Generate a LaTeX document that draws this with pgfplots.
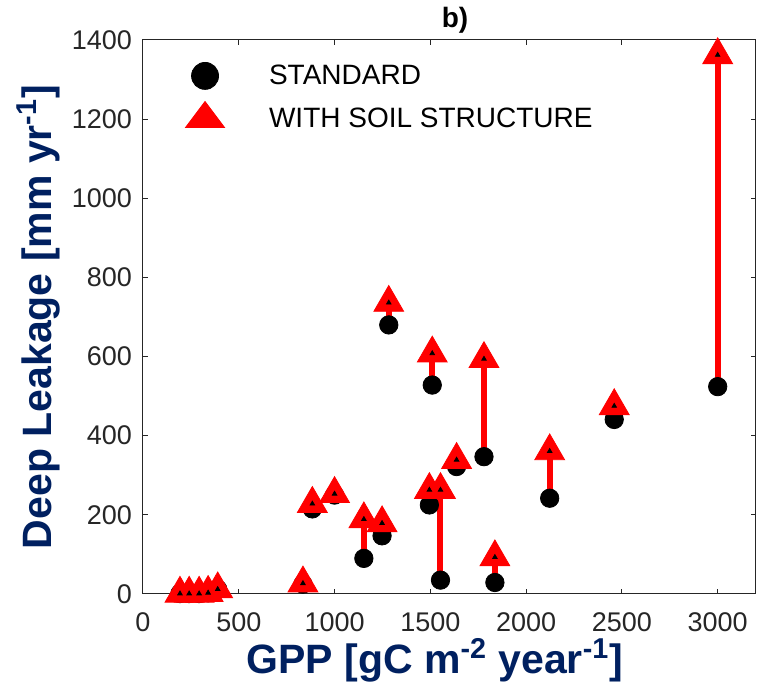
\documentclass[border=0pt]{standalone}
\usepackage{pgfplots}
\pgfplotsset{compat=1.18}
\usepackage{pgfplotstable}
\usepackage{fontspec}
\setmainfont{Liberation Sans}
\definecolor{navy}{HTML}{002060}
\definecolor{axgray}{HTML}{262626}
\pgfplotstableread{
x ys yw
193 1 1
241 1 1
293 1 1
340 3 3
390 12 12
835 25 27
884 215 228
1000 250 253
1153 90 189
1248 147 179
1283 680 736
1495 225 263
1510 528 608
1553 35 263
1637 322 339
1780 347 594
1837 29 93
2123 242 361
2460 441 475
3000 524 1362
}\datatable
\begin{document}
\begin{tikzpicture}
\begin{axis}[
 scale only axis, width=306.5pt, height=277pt,
 at={(0,0)}, anchor=south west,
 xmin=0, xmax=3200, ymin=0, ymax=1400,
 xtick={0,500,...,3000}, ytick={0,200,...,1400},
 tick align=inside, tick pos=both, major tick length=2.5pt,
 axis line style={axgray, line width=0.5pt},
 every tick/.style={axgray, line width=0.5pt},
 /pgf/number format/assume math mode=true,
 /pgf/number format/1000 sep={},
 ticklabel style={font=\fontsize{13.5}{15}\selectfont, text=axgray},
 xticklabel style={yshift=-6pt},
 yticklabel style={xshift=-2pt},
 xlabel={GPP [gC m\textsuperscript{-2} year\textsuperscript{-1}]},
 ylabel={Deep Leakage [mm yr\textsuperscript{-1}]},
 label style={font=\fontsize{20.5}{24}\selectfont\bfseries, text=navy, inner sep=0pt},
 xlabel style={at={(axis description cs:0.476,0)}, anchor=center, yshift=-33pt},
 ylabel style={at={(axis description cs:-0.171,0.5)}, anchor=center},
 title={b)},
 every axis title shift=0pt,
 title style={font=\fontsize{14}{16}\selectfont\bfseries, inner sep=0pt, at={(axis description cs:0.509,1)}, anchor=center, yshift=10pt},
 clip=false,
 legend cell align=left,
 legend style={draw=none, fill=none, inner sep=0pt, outer sep=0pt,
   at={(rel axis cs:0.0693,0.974)}, anchor=north west,
   font=\fontsize{14}{16}\selectfont, row sep=0pt},
]
\addplot[only marks, mark=*, mark size=4.6pt, black,
  legend image code/.code={\path[draw=none, fill=none] (-9.75pt,-10.75pt) rectangle (30pt,10.75pt);
    \draw[black, fill=black] plot[mark=*, mark size=6.75pt] coordinates {(0pt,0pt)};}]
  table[x=x, y=ys] {\datatable};
\addlegendentry{STANDARD}
\addplot[forget plot, draw=none, mark=none,
  error bars/.cd, y dir=plus, y explicit, error mark=none,
  error bar style={draw=red, line width=3pt}]
  table[x=x, y=ys, y error expr=\thisrow{yw}-\thisrow{ys}] {\datatable};
\addplot[only marks, mark=triangle*, mark size=8.6pt, red, fill=red,
  legend image code/.code={\path[draw=none, fill=none] (-9.75pt,-10.75pt) rectangle (30pt,10.75pt);
    \draw[red, fill=red] plot[mark=triangle*, mark size=11.3pt, mark options={yscale=0.77}] coordinates {(0pt,0pt)};}]
  table[x=x, y=yw] {\datatable};
\addlegendentry{WITH SOIL STRUCTURE}
\addplot[forget plot, only marks, mark=triangle*, mark size=1.3pt, black]
  table[x=x, y=yw] {\datatable};
\end{axis}
\path (-71.5pt,-47.5pt) rectangle (307pt,297pt);
\end{tikzpicture}
\end{document}
